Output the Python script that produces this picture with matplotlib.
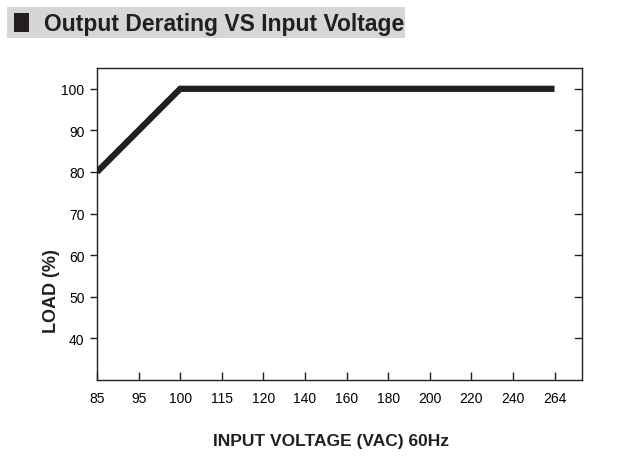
import matplotlib.pyplot as plt
from matplotlib.patches import Rectangle

# Data
voltage_labels = ['85', '95', '100', '115', '120', '140', '160', '180', '200', '220', '240', '264']
curve_voltages = ['85', '100', '264']
curve_load = [80, 100, 100]
load_ticks = [40, 50, 60, 70, 80, 90, 100]

plt.rcParams['font.family'] = ['Liberation Sans Narrow', 'Liberation Sans', 'DejaVu Sans']

fig = plt.figure(figsize=(6.18, 4.64), dpi=100)
ax = fig.add_axes([97 / 618, 1 - 381 / 464, (582 - 97) / 618, (381 - 69) / 464])

XMAX = 11.66

# categorical x positions
xpos = [voltage_labels.index(v) for v in curve_voltages]
ax.plot(xpos, curve_load, color='#231f20', linewidth=4.5, solid_capstyle='butt', solid_joinstyle='miter')

ax.set_xlim(0, XMAX)
ax.set_ylim(30, 105)
ax.set_xticks(range(len(voltage_labels)))
ax.set_xticklabels(voltage_labels)
ax.set_yticks(load_ticks)
ax.set_yticklabels([str(t) for t in load_ticks])

ax.tick_params(axis='x', direction='in', length=6, width=1, labelsize=10, pad=8, color='#231f20')
ax.tick_params(axis='y', direction='out', length=5, width=1, labelsize=10, pad=4, color='#231f20')
for spine in ax.spines.values():
    spine.set_linewidth(1)
    spine.set_color('#231f20')

# right-side ticks pointing inward
for t in load_ticks:
    ax.plot([XMAX - 0.17, XMAX], [t, t], color='#231f20', linewidth=1, clip_on=False)

ax.set_xlabel('INPUT VOLTAGE (VAC) 60Hz', fontsize=12.5, fontweight='bold', color='#231f20')
ax.xaxis.set_label_coords((331 - 97) / 485, -(442 - 381) / 312)
ax.set_ylabel('LOAD (%)', fontsize=13, fontweight='bold', color='#231f20')
ax.yaxis.set_label_coords(-(97 - 52) / 485, (381 - 291) / 312)
ax.yaxis.label.set_va('center')
ax.xaxis.label.set_va('center')

# title banner
fig.patches.append(Rectangle((7 / 618, 1 - 39 / 464), 398 / 618, 31 / 464,
                             transform=fig.transFigure, facecolor='#d6d6d6', edgecolor='none'))
fig.patches.append(Rectangle((14 / 618, 1 - 33 / 464), 15 / 618, 19 / 464,
                             transform=fig.transFigure, facecolor='#231f20', edgecolor='none'))
fig.text(44 / 618, 1 - 24 / 464, 'Output Derating VS Input Voltage', fontsize=16.5, fontweight='bold',
         va='center', ha='left', color='#231f20')

fig.savefig('out.png', dpi=100)
